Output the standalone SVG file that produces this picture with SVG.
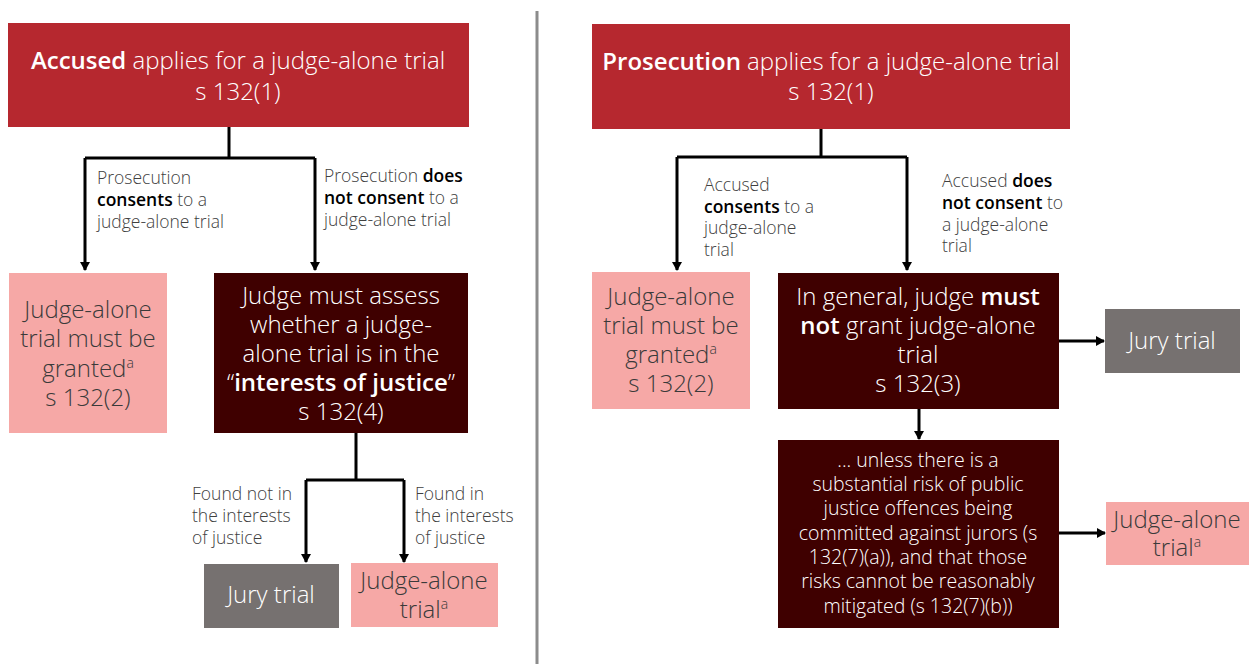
<svg xmlns="http://www.w3.org/2000/svg" width="1250" height="664" viewBox="0 0 1250 664">
<defs>
<marker id="ah" markerWidth="10" markerHeight="10" refX="8" refY="5" orient="auto" markerUnits="userSpaceOnUse">
<path d="M0,0 L9,5 L0,10 Z" fill="#000"/>
</marker>
<style>
text{font-family:"Open Sans","Noto Sans","Liberation Sans",sans-serif;font-weight:300}
.b{font-weight:600}
.big{font-size:24px;text-anchor:middle}
.mid{font-size:19.5px;text-anchor:middle}
.lbl{font-size:17.5px;fill:#404040}
.lbl .b{fill:#000}
.w{fill:#fff}
.dk{fill:#3a3a3a}
.sup{font-size:14px}
.red{fill:#B6282F}
.drk{fill:#3F0000}
.pnk{fill:#F6A8A6}
.gry{fill:#767170}
.c{fill:none;stroke:#000;stroke-width:3}
</style>
</defs>
<rect width="1250" height="664" fill="#fff"/>
<line x1="537" y1="11" x2="537" y2="664" stroke="#8C8C8C" stroke-width="3"/>

<g id="connectors">
<path class="c" d="M229,127 V158 M85,158 H315 M85,158 V270" marker-end="url(#ah)"/>
<path class="c" d="M315,158 V270" marker-end="url(#ah)"/>
<path class="c" d="M356,433 V480 M306,480 H404 M306,480 V562" marker-end="url(#ah)"/>
<path class="c" d="M404,480 V562" marker-end="url(#ah)"/>
<path class="c" d="M821,129 V157 M677,157 H907 M677,157 V270" marker-end="url(#ah)"/>
<path class="c" d="M907,157 V270" marker-end="url(#ah)"/>
<path class="c" d="M1059,341 H1104" marker-end="url(#ah)"/>
<path class="c" d="M919,409 V439" marker-end="url(#ah)"/>
<path class="c" d="M1059,533 H1105" marker-end="url(#ah)"/>
</g>

<g id="labels">
<text class="lbl" x="97" y="184">Prosecution</text>
<text class="lbl" x="97" y="206"><tspan class="b">consents</tspan> to a</text>
<text class="lbl" x="97" y="228">judge-alone trial</text>
<text class="lbl" x="324" y="182">Prosecution <tspan class="b">does</tspan></text>
<text class="lbl" x="324" y="204"><tspan class="b">not consent</tspan> to a</text>
<text class="lbl" x="324" y="226">judge-alone trial</text>
<text class="lbl" x="192" y="500">Found not in</text>
<text class="lbl" x="192" y="522">the interests</text>
<text class="lbl" x="192" y="544">of justice</text>
<text class="lbl" x="415" y="500">Found in</text>
<text class="lbl" x="415" y="522">the interests</text>
<text class="lbl" x="415" y="544">of justice</text>
<text class="lbl" x="704" y="191">Accused</text>
<text class="lbl" x="704" y="213"><tspan class="b">consents</tspan> to a</text>
<text class="lbl" x="704" y="234">judge-alone</text>
<text class="lbl" x="704" y="256">trial</text>
<text class="lbl" x="942" y="187">Accused <tspan class="b">does</tspan></text>
<text class="lbl" x="942" y="209"><tspan class="b">not consent</tspan> to</text>
<text class="lbl" x="942" y="231">a judge-alone</text>
<text class="lbl" x="942" y="252">trial</text>
</g>

<g id="n-accused">
<rect class="red" x="8" y="23" width="461" height="104"/>
<text class="big w" x="238" y="69"><tspan class="b">Accused</tspan> applies for a judge-alone trial</text>
<text class="big w" x="238" y="100">s 132(1)</text>
</g>

<g id="n-granted-left">
<rect class="pnk" x="9" y="273" width="158" height="160"/>
<text class="big dk" x="88" y="318">Judge-alone</text>
<text class="big dk" x="88" y="347">trial must be</text>
<text class="big dk" x="88" y="377">granted<tspan class="sup" dy="-9">a</tspan></text>
<text class="big dk" x="88" y="406">s 132(2)</text>
</g>

<g id="n-assess">
<rect class="drk" x="214" y="273" width="254" height="160"/>
<text class="big w" x="341" y="304">Judge must assess</text>
<text class="big w" x="341" y="333">whether a judge-</text>
<text class="big w" x="341" y="362">alone trial is in the</text>
<text class="big w" x="341" y="391">“<tspan class="b">interests of justice</tspan>”</text>
<text class="big w" x="341" y="420">s 132(4)</text>
</g>

<g id="n-jury-left">
<rect class="gry" x="204" y="564" width="135" height="64"/>
<text class="big w" x="271" y="603">Jury trial</text>
</g>

<g id="n-alone-left">
<rect class="pnk" x="351" y="563" width="147" height="64"/>
<text class="big dk" x="424" y="589">Judge-alone</text>
<text class="big dk" x="424" y="618">trial<tspan class="sup" dy="-9">a</tspan></text>
</g>

<g id="n-prosecution">
<rect class="red" x="592" y="24" width="478" height="105"/>
<text class="big w" x="831" y="70"><tspan class="b">Prosecution</tspan> applies for a judge-alone trial</text>
<text class="big w" x="831" y="100">s 132(1)</text>
</g>

<g id="n-granted-right">
<rect class="pnk" x="592" y="272" width="158" height="137"/>
<text class="big dk" x="671" y="305">Judge-alone</text>
<text class="big dk" x="671" y="334">trial must be</text>
<text class="big dk" x="671" y="363">granted<tspan class="sup" dy="-9">a</tspan></text>
<text class="big dk" x="671" y="392">s 132(2)</text>
</g>

<g id="n-mustnot">
<rect class="drk" x="778" y="273" width="281" height="136"/>
<text class="big w" x="918" y="305">In general, judge <tspan class="b">must</tspan></text>
<text class="big w" x="918" y="334"><tspan class="b">not</tspan> grant judge-alone</text>
<text class="big w" x="918" y="363">trial</text>
<text class="big w" x="918" y="392">s 132(3)</text>
</g>

<g id="n-jury-right">
<rect class="gry" x="1105" y="309" width="135" height="64"/>
<text class="big w" x="1172" y="349">Jury trial</text>
</g>

<g id="n-unless">
<rect class="drk" x="778" y="440" width="281" height="188"/>
<text class="mid w" x="918" y="467">... unless there is a</text>
<text class="mid w" x="918" y="491">substantial risk of public</text>
<text class="mid w" x="918" y="515">justice offences being</text>
<text class="mid w" x="918" y="540">committed against jurors (s</text>
<text class="mid w" x="918" y="564">132(7)(a)), and that those</text>
<text class="mid w" x="918" y="588">risks cannot be reasonably</text>
<text class="mid w" x="918" y="613">mitigated (s 132(7)(b))</text>
</g>

<g id="n-alone-right">
<rect class="pnk" x="1106" y="502" width="143" height="63"/>
<text class="big dk" x="1177" y="528">Judge-alone</text>
<text class="big dk" x="1177" y="556">trial<tspan class="sup" dy="-9">a</tspan></text>
</g>
</svg>
